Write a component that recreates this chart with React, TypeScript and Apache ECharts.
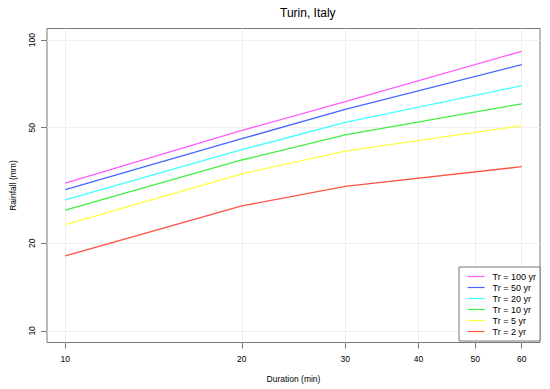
import React, { useEffect, useRef } from "react";
import * as echarts from "echarts";

const DURATIONS = [10, 20, 30, 60];
const TR_100 = [32.2, 48.9, 61.5, 91.5];
const TR_50 = [30.6, 45.8, 57.8, 82.3];
const TR_20 = [28.2, 42.0, 52.1, 69.7];
const TR_10 = [26.0, 38.7, 47.2, 60.4];
const TR_5 = [23.2, 34.7, 41.5, 50.8];
const TR_2 = [18.1, 26.9, 31.4, 36.7];
const SERIES_NAMES = ["Tr = 100 yr", "Tr = 50 yr", "Tr = 20 yr", "Tr = 10 yr", "Tr = 5 yr", "Tr = 2 yr"];
const SERIES_VALUES = [TR_100, TR_50, TR_20, TR_10, TR_5, TR_2];
const SERIES_COLORS = ["#ff5cff", "#4466ff", "#44ffff", "#44ee44", "#ffff44", "#ff5544"];
const X_TICKS = [10, 20, 30, 40, 50, 60];
const Y_TICKS = [10, 20, 50, 100];
const Y_LIMITS = [10, 100];

const FONT = "'Liberation Sans', Arial, Helvetica, sans-serif";
const lg = (v: number) => Math.log10(v);

export default function App() {
  const ref = useRef<HTMLDivElement>(null);
  useEffect(() => {
    document.body.style.margin = "0";
    const chart = echarts.init(ref.current!, null, { renderer: "svg" });
    const xl0 = lg(Math.min(...DURATIONS));
    const xl1 = lg(Math.max(...DURATIONS));
    const xr = xl1 - xl0;
    const yl0 = lg(Y_LIMITS[0]);
    const yl1 = lg(Y_LIMITS[1]);
    const yr = yl1 - yl0;
    const fmt = (v: number) => String(Math.round(Math.pow(10, v)));
    chart.setOption({
      animation: false,
      backgroundColor: "#ffffff",
      title: {
        text: "Turin, Italy",
        left: 275,
        top: 2,
        textStyle: { fontFamily: FONT, fontSize: 12, fontWeight: "normal", color: "#000" },
      },
      grid: {
        left: 43,
        right: 10,
        top: 28.5,
        bottom: 46.5,
        show: true,
        borderColor: "#777",
        borderWidth: 1,
        backgroundColor: "transparent",
      },
      legend: {
        orient: "vertical",
        left: 459,
        top: 267,
        padding: [5, 4, 5, 8],
        itemGap: 2,
        itemWidth: 17,
        itemHeight: 9,
        backgroundColor: "#fff",
        borderColor: "#777",
        borderWidth: 1,
        borderRadius: 0,
        data: SERIES_NAMES,
        itemStyle: { opacity: 0 },
        lineStyle: { width: 1.2 },
        textStyle: { fontFamily: FONT, fontSize: 9, color: "#000", padding: [0, 0, 0, 3] },
      },
      xAxis: {
        type: "value",
        min: xl0 - 0.04 * xr,
        max: xl1 + 0.04 * xr,
        name: "Duration (min)",
        nameLocation: "middle",
        nameGap: 32,
        nameTextStyle: { fontFamily: FONT, fontSize: 8.5, color: "#000" },
        axisLine: { show: false },
        axisTick: { show: true, inside: false, length: 6, customValues: X_TICKS.map(lg), lineStyle: { color: "#777" } },
        axisLabel: { customValues: X_TICKS.map(lg), formatter: fmt, margin: 12, fontFamily: FONT, fontSize: 8.5, color: "#000" },
        splitLine: { show: true, lineStyle: { color: "#efefef", width: 1 } },
      },
      yAxis: {
        type: "value",
        min: yl0 - 0.04 * yr,
        max: yl1 + 0.04 * yr,
        name: "Rainfall (mm)",
        nameLocation: "middle",
        nameGap: 30,
        nameTextStyle: { fontFamily: FONT, fontSize: 8.5, color: "#000" },
        axisLine: { show: false },
        axisTick: { show: true, inside: false, length: 6, customValues: Y_TICKS.map(lg), lineStyle: { color: "#777" } },
        axisLabel: { customValues: Y_TICKS.map(lg), formatter: fmt, rotate: 90, margin: 11, fontFamily: FONT, fontSize: 8.5, color: "#000" },
        splitLine: { show: true, lineStyle: { color: "#efefef", width: 1 } },
      },
      series: SERIES_NAMES.map((name, i) => ({
        name,
        type: "line",
        symbol: "none",
        color: SERIES_COLORS[i],
        lineStyle: { width: 1.3, color: SERIES_COLORS[i] },
        data: DURATIONS.map((d, j) => [lg(d), lg(SERIES_VALUES[i][j])]),
      })),
    });
    return () => chart.dispose();
  }, []);
  return <div ref={ref} style={{ width: 550, height: 389, position: "absolute", left: 0, top: 0 }} />;
}
